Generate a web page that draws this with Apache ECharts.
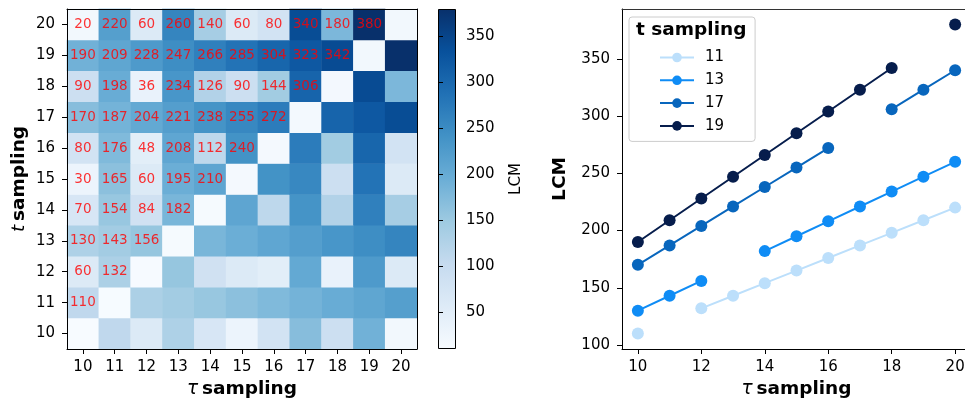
<!DOCTYPE html>
<html>
<head>
<meta charset="utf-8">
<script src="https://cdn.jsdelivr.net/npm/echarts@6/dist/echarts.min.js"></script>
<style>html,body{margin:0;padding:0;background:#fff;overflow:hidden}#c{width:965px;height:401px}</style>
</head>
<body>
<div id="c"></div>
<script>
// ---- data ----
const tauLabels = ['10','11','12','13','14','15','16','17','18','19','20'];
const tLabels   = ['10','11','12','13','14','15','16','17','18','19','20'];
// LCM matrix, rows = t (10..20), columns = tau (10..20)
const row10 = [10, 110, 60, 130, 70, 30, 80, 170, 90, 190, 20];
const row11 = [110, 11, 132, 143, 154, 165, 176, 187, 198, 209, 220];
const row12 = [60, 132, 12, 156, 84, 60, 48, 204, 36, 228, 60];
const row13 = [130, 143, 156, 13, 182, 195, 208, 221, 234, 247, 260];
const row14 = [70, 154, 84, 182, 14, 210, 112, 238, 126, 266, 140];
const row15 = [30, 165, 60, 195, 210, 15, 240, 255, 90, 285, 60];
const row16 = [80, 176, 48, 208, 112, 240, 16, 272, 144, 304, 80];
const row17 = [170, 187, 204, 221, 238, 255, 272, 17, 306, 323, 340];
const row18 = [90, 198, 36, 234, 126, 90, 144, 306, 18, 342, 180];
const row19 = [190, 209, 228, 247, 266, 285, 304, 323, 342, 19, 380];
const row20 = [20, 220, 60, 260, 140, 60, 80, 340, 180, 380, 20];
const lcmRows = [row10,row11,row12,row13,row14,row15,row16,row17,row18,row19,row20];

const tauValues = [10,11,12,13,14,15,16,17,18,19,20];
const lineNames = ['11','13','17','19'];
const line11 = [110, null, 132, 143, 154, 165, 176, 187, 198, 209, 220];
const line13 = [130, 143, 156, null, 182, 195, 208, 221, 234, 247, 260];
const line17 = [170, 187, 204, 221, 238, 255, 272, null, 306, 323, 340];
const line19 = [190, 209, 228, 247, 266, 285, 304, 323, 342, null, 380];
const lineValues = [line11, line13, line17, line19];

const colorbarTicks = [50,100,150,200,250,300,350];
const lineXTicks = [10,12,14,16,18,20];
const lineYTicks = [100,150,200,250,300,350];

// ---- styles ----
const FONT = 'DejaVu Sans';
const TICK = 15, NAME = 18.5;
const blues = ['#f7fbff','#deebf7','#c6dbef','#9ecae1','#6baed6','#4292c6','#2171b5','#08519c','#08306b'];
const lineColors = ['#bcdffb','#0f8cf5','#0866bd','#061d4c'];
const cmin = 10, cmax = 380;

const heatData = [];
lcmRows.forEach((row, yi) => row.forEach((v, xi) => {
  heatData.push({value: [xi, yi, v], label: {show: xi < yi}});
}));

const chart = echarts.init(document.getElementById('c'), null, {renderer: 'canvas'});
const tickStyle = {show: true, length: 5, lineStyle: {color: '#000'}};
const labelStyle = {color: '#000', fontSize: TICK, fontFamily: FONT};
const nameRich = {
  it: {fontStyle: 'italic', fontWeight: 'normal', fontSize: NAME, fontFamily: FONT, color: '#000'},
  b: {fontWeight: 'bold', fontSize: NAME, fontFamily: FONT, color: '#000'}
};

chart.setOption({
  animation: false,
  textStyle: {fontFamily: FONT},
  title: {text: 't sampling', left: 636, top: 21, padding: 0,
    textStyle: {fontFamily: FONT, fontWeight: 'bold', fontSize: NAME, color: '#000'}, z: 20},
  legend: {
    data: lineNames, orient: 'vertical', left: 629, top: 17,
    padding: [33, 31, 8, 30], itemWidth: 34, itemHeight: 12, itemGap: 7.8,
    borderColor: '#cccccc', borderWidth: 1, borderRadius: 3, backgroundColor: '#fff',
    textStyle: {fontSize: TICK, fontFamily: FONT, color: '#000', padding: [0,0,0,6]}
  },
  grid: [
    {left: 67, top: 9, width: 350, height: 340, outerBoundsMode: 'none'},
    {left: 622, top: 9, width: 349, height: 340, outerBoundsMode: 'none'},
    {left: 438, top: 9, width: 18, height: 340, outerBoundsMode: 'none'}
  ],
  visualMap: {show: false, min: cmin, max: cmax, seriesIndex: 0, inRange: {color: blues}},
  xAxis: [
    {gridIndex: 0, type: 'category', data: tauLabels, z: 10,
      name: '{it|τ} {b|sampling}', nameLocation: 'middle', nameGap: 31, nameTextStyle: {rich: nameRich},
      axisLine: {show: true, lineStyle: {color: '#000'}},
      axisTick: Object.assign({alignWithLabel: true}, tickStyle),
      axisLabel: Object.assign({margin: 11}, labelStyle), splitLine: {show: false}},
    {gridIndex: 0, type: 'category', data: tauLabels, position: 'top', z: 10,
      axisLine: {show: true, lineStyle: {color: '#000'}}, axisTick: {show: false}, axisLabel: {show: false}},
    {gridIndex: 1, type: 'value', min: 9.5, max: 20.5,
      name: '{it|τ} {b|sampling}', nameLocation: 'middle', nameGap: 31, nameTextStyle: {rich: nameRich},
      axisLine: {show: true, lineStyle: {color: '#000'}},
      axisTick: Object.assign({customValues: lineXTicks}, tickStyle),
      axisLabel: Object.assign({margin: 11, customValues: lineXTicks}, labelStyle), splitLine: {show: false}},
    {gridIndex: 2, type: 'value', min: 0, max: 1, show: false},
    {gridIndex: 1, type: 'value', min: 9.5, max: 20.5, position: 'top',
      axisLine: {show: true, onZero: false, lineStyle: {color: '#333'}}, axisTick: {show: false},
      axisLabel: {show: false}, splitLine: {show: false}}
  ],
  yAxis: [
    {gridIndex: 0, type: 'category', data: tLabels, z: 10,
      name: '{it|t} {b|sampling}', nameLocation: 'middle', nameGap: 38, nameTextStyle: {rich: nameRich},
      axisLine: {show: true, lineStyle: {color: '#000'}},
      axisTick: Object.assign({alignWithLabel: true}, tickStyle),
      axisLabel: Object.assign({margin: 12}, labelStyle), splitLine: {show: false}},
    {gridIndex: 0, type: 'category', data: tLabels, position: 'right', z: 10,
      axisLine: {show: true, lineStyle: {color: '#000'}}, axisTick: {show: false}, axisLabel: {show: false}},
    {gridIndex: 1, type: 'value', min: 96.5, max: 393.5,
      name: 'LCM', nameLocation: 'middle', nameGap: 52,
      nameTextStyle: {fontWeight: 'bold', fontSize: NAME, fontFamily: FONT, color: '#000'},
      axisLine: {show: true, lineStyle: {color: '#000'}},
      axisTick: Object.assign({customValues: lineYTicks}, tickStyle),
      axisLabel: Object.assign({margin: 12, customValues: lineYTicks}, labelStyle), splitLine: {show: false}},
    {gridIndex: 2, type: 'value', min: cmin, max: cmax, position: 'right', z: 10,
      name: 'LCM', nameLocation: 'middle', nameGap: 53,
      nameTextStyle: {fontSize: TICK, fontFamily: FONT, color: '#000'},
      axisLine: {show: false}, splitLine: {show: false},
      axisTick: Object.assign({customValues: colorbarTicks}, tickStyle),
      axisLabel: Object.assign({margin: 10, customValues: colorbarTicks}, labelStyle)}
  ],
  graphic: [{
    type: 'rect', z: 5,
    shape: {x: 438.5, y: 9.5, width: 17, height: 339},
    style: {
      fill: {type: 'linear', x: 0, y: 1, x2: 0, y2: 0,
        colorStops: blues.map((c, i) => ({offset: i / (blues.length - 1), color: c}))},
      stroke: '#000', lineWidth: 1
    }
  }, {
    type: 'rect', z: 100, silent: true,
    shape: {x: 962, y: 10.5, width: 4, height: 337.5},
    style: {fill: '#fff'}
  }],
  series: [
    {
      type: 'heatmap', xAxisIndex: 0, yAxisIndex: 0, data: heatData,
      label: {color: 'rgba(255,0,0,0.8)', fontSize: 13.5, fontFamily: FONT},
      emphasis: {disabled: true}
    }
  ].concat(lineNames.map((n, i) => ({
    type: 'line', name: n, xAxisIndex: 2, yAxisIndex: 2,
    data: tauValues.map((x, k) => [x, lineValues[i][k] === null ? '-' : lineValues[i][k]]),
    connectNulls: false, symbol: 'circle', symbolSize: 12, showSymbol: true,
    color: lineColors[i], lineStyle: {width: 2, color: lineColors[i]},
    itemStyle: {color: lineColors[i]}, emphasis: {disabled: true}
  }))).concat([{type: 'scatter', xAxisIndex: 3, yAxisIndex: 3, data: []}])
});
</script>
</body>
</html>
